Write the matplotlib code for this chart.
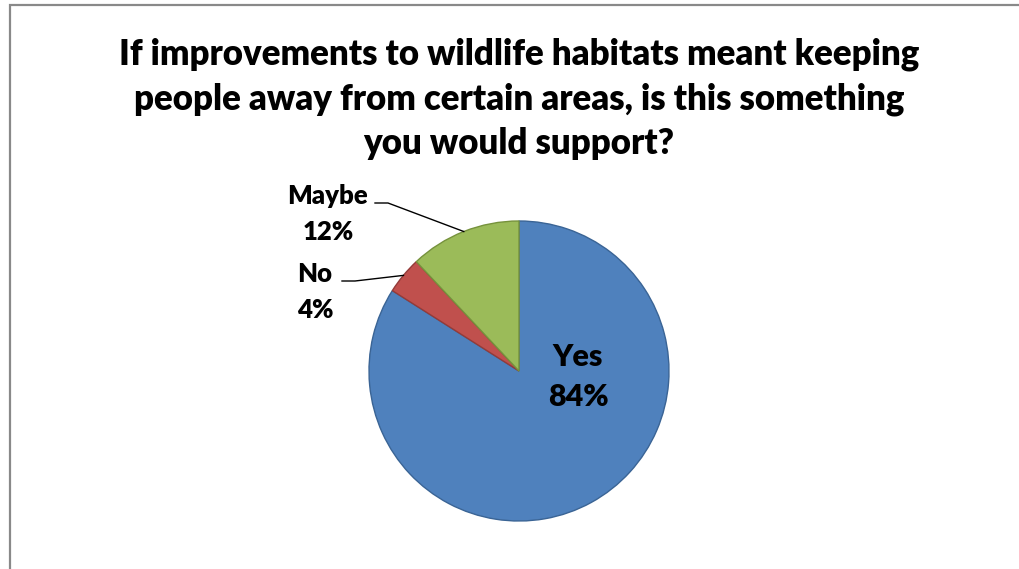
import matplotlib
matplotlib.use("Agg")
import matplotlib.pyplot as plt
from matplotlib.patches import Rectangle
import numpy as np

labels = ["Yes", "No", "Maybe"]
shares = [84, 4, 12]
fills = ["#4F81BD", "#C0504D", "#9BBB59"]
edges = ["#3A6495", "#943B39", "#76923C"]
title = ("If improvements to wildlife habitats meant keeping\n"
         "people away from certain areas, is this something\n"
         "you would support?")

W, H = 1020, 569
plt.rcParams['font.family'] = ['Lato', 'DejaVu Sans']

fig = plt.figure(figsize=(W / 100, H / 100), dpi=100)
ax = fig.add_axes([0, 0, 1, 1])

# chart frame (runs off the right and bottom edges)
ax.add_patch(Rectangle((10, -20), W + 40, H - 5 + 20, fill=False,
                       edgecolor='#898989', lw=1.6))

cx, cy, r = 519, H - 371, 150
wedges, _ = ax.pie(shares, colors=fills, startangle=90, counterclock=False,
                   center=(cx, cy), radius=r, frame=True,
                   wedgeprops=dict(linewidth=1.0))
for w, ec in zip(wedges, edges):
    w.set_edgecolor(ec)
ax.set_xlim(0, W)
ax.set_ylim(0, H)
ax.set_aspect('equal')
ax.axis('off')

ax.text(519, H - 99, title, ha='center', va='center', fontsize=25,
        fontweight='heavy', linespacing=1.42)

# inside label for the big slice
ax.text(578, H - 377, "%s\n%d%%" % (labels[0], shares[0]), ha='center',
        va='center', fontsize=22, fontweight='heavy', linespacing=1.55)

# outside labels with leader lines
outside = {"No": ((315, H - 292), (342, 355)), "Maybe": ((328, H - 214), (375, 388))}
for w, lab, val in zip(wedges[1:], labels[1:], shares[1:]):
    mid = np.deg2rad((w.theta1 + w.theta2) / 2)
    px, py = cx + r * np.cos(mid), cy + r * np.sin(mid)
    (tx, ty), (x0, x1) = outside[lab]
    ax.text(tx, ty, "%s\n%d%%" % (lab, val), ha='center', va='center',
            fontsize=18.5, fontweight='heavy', linespacing=1.6)
    ly = ty + 11
    ax.plot([x0, x1, px], [ly, ly, py], color='black', lw=1.0)

fig.savefig("out.png", dpi=100)
